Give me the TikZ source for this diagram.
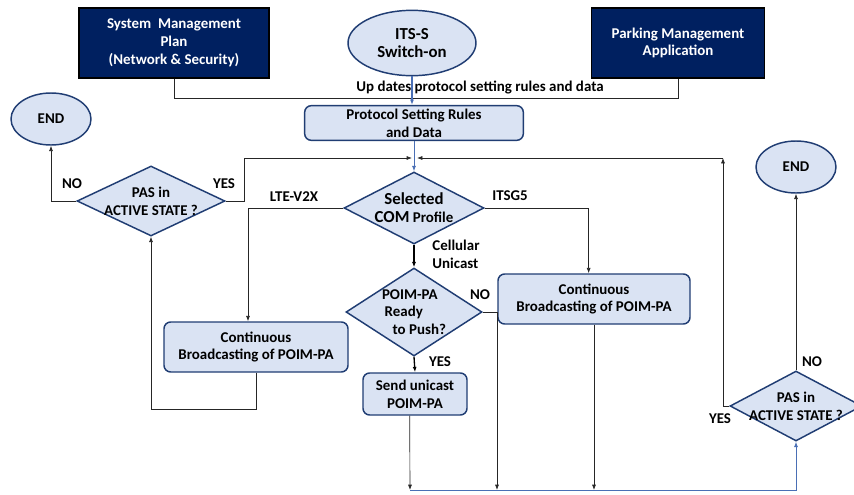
\documentclass[tikz,border=0pt]{standalone}
\usepackage{fontspec}
\setmainfont{Carlito}
\usetikzlibrary{positioning,calc,arrows.meta,shapes.geometric}
\definecolor{navy}{HTML}{002060}
\definecolor{paleblue}{HTML}{DAE3F3}
\definecolor{rimblue}{HTML}{203D73}
\definecolor{flowblue}{HTML}{4A6FB5}
\newcommand{\bigtxt}{\fontsize{12.6}{14}\selectfont}
\tikzset{
  basefont/.style  = {font=\bfseries\fontsize{11.2}{13.3}\selectfont},
  darkbox/.style   = {rectangle, draw=black, line width=1pt, fill=navy,
                      text=white, align=center, basefont},
  termnode/.style  = {ellipse, draw=rimblue, line width=1.1pt, fill=paleblue,
                      align=center, inner sep=0pt, basefont},
  procbox/.style   = {rectangle, rounded corners=5pt, draw=rimblue, line width=1.1pt,
                      fill=paleblue, align=center, inner sep=0pt, basefont},
  choice/.style    = {diamond, draw=rimblue, line width=1.1pt, fill=paleblue,
                      align=center, inner sep=-8pt, aspect=2, basefont},
  flowlabel/.style = {inner sep=0pt, align=left, basefont},
  link/.style      = {line width=0.5pt, draw=black!85},
  >={Latex[length=4pt,width=3pt]}
}

\begin{document}
\begin{tikzpicture}[x=0.75pt,y=-0.75pt]
    \useasboundingbox (0,0) rectangle (854,494);

    % top row: sources
    \node[darkbox, minimum width=142.5pt, minimum height=52.5pt] (sysmgmt) at (174,43)
      {System\ \ Management\\Plan\\(Network \& Security)};
    \node[termnode, minimum width=96pt, minimum height=49pt] (switchon) at (412,43)
      {\bigtxt ITS-S\\\bigtxt Switch-on};
    \node[darkbox, minimum width=130pt, minimum height=52.5pt] (parking) at (678,43)
      {Parking Management\\Application};

    \node[flowlabel] (updlbl) at (480,88) {Up dates protocol setting rules and data};
    \node[procbox, minimum width=164pt, minimum height=26pt] (rules) at (414,123)
      {Protocol Setting Rules\\and Data};

    \coordinate (feed) at (412,98);
    \draw[link] (sysmgmt.south) |- (feed);
    \draw[link] (parking.south) |- (feed);
    \draw[->, line width=1pt, draw=flowblue] (switchon.south) -- (switchon.south |- rules.north);

    % profile selection
    \node[choice, minimum width=105pt, minimum height=54pt] (selcom) at (414,208)
      {\bigtxt Selected\\{\bigtxt COM} Profile};
    \draw[->, line width=0.7pt, draw=flowblue] (rules.south) -- (selcom.north);

    \node[flowlabel] (ltelbl) at (294,197) {LTE-V2X};
    \node[flowlabel] (g5lbl) at (510,196) {ITSG5};
    \node[flowlabel] (celllbl) at (456,254) {Cellular\\Unicast};

    % left branch
    \node[procbox, minimum width=138pt, minimum height=37.5pt] (bcastL) at (256,347)
      {Continuous\\Broadcasting of POIM-PA};
    \node[choice, minimum width=111pt, minimum height=52.5pt] (pasL) at (151,201)
      {PAS in\\ACTIVE STATE ?};
    \node[termnode, minimum width=60pt, minimum height=39pt] (endL) at (51,119) {END};
    \node[flowlabel] (noL) at (72,184) {NO};
    \node[flowlabel] (yesL) at (224,184) {YES};

    \coordinate (mergeL) at (412,158);
    \coordinate (mergeR) at (417,158);
    \draw[link,->] (selcom.west) -| ([xshift=-6pt]bcastL.north);
    \draw[link,->] (bcastL.south) -- ++(0,37) -| (pasL.south);
    \draw[link,->] (pasL.west) -| (endL.south);
    \draw[link,->] (pasL.east) -- ++(19,0) |- (mergeL);

    % cellular unicast branch
    \node[choice, align=left, minimum width=102pt, minimum height=66pt] (poim) at (414,312)
      {POIM-PA\\\hspace*{2pt}Ready\\\hspace*{8pt}to Push?};
    \node[procbox, minimum width=78pt, minimum height=31.5pt] (send) at (415,394)
      {Send unicast\\POIM-PA};
    \node[flowlabel] (nomid) at (480,295) {NO};
    \node[flowlabel] (yesmid) at (440,362) {YES};
    \draw[->, line width=1pt] (selcom.south) -- (poim.north);
    \draw[->, line width=1pt] (poim.south) -- (send.north);

    % right branch
    \node[procbox, minimum width=144pt, minimum height=37.5pt] (bcastR) at (594,299)
      {Continuous\\Broadcasting of POIM-PA};
    \draw[link,->] (selcom.east) -| ([xshift=-4pt]bcastR.north);

    % collecting line at the bottom
    \coordinate (jsend) at (410,490);
    \coordinate (jno) at (497,490);
    \coordinate (jbcast) at (598,490);
    \draw[link,->] ([xshift=-4pt]send.south) -- (jsend);
    \draw[link,->] (poim.east) -| (jno);
    \draw[link,->] (bcastR.south) -- (bcastR.south |- jbcast);

    \node[choice, minimum width=99pt, minimum height=52.5pt] (pasR) at (796,406)
      {PAS in\\ACTIVE STATE ?};
    \node[termnode, minimum width=60pt, minimum height=39pt] (endR) at (796,167) {END};
    \node[flowlabel] (noR) at (812,362) {NO};
    \node[flowlabel] (yesR) at (720,419) {YES};

    \draw[->, line width=0.7pt, draw=flowblue] (jsend) -| (pasR.south);
    \draw[link,->] (pasR.north) -- (endR.south);
    \coordinate (rturn) at (723,158);
    \draw[link,->] (pasR.west) -| (rturn);
    \draw[link,->] (rturn) -- (mergeR);
  \end{tikzpicture}
\end{document}
